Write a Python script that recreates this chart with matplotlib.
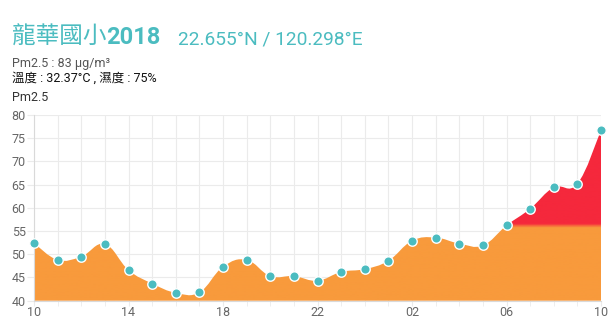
import matplotlib
matplotlib.use('Agg')
import matplotlib.pyplot as plt
import numpy as np
from matplotlib.path import Path
from matplotlib.patches import PathPatch
from matplotlib.colors import LinearSegmentedColormap

plt.rcParams['font.family'] = ['Roboto', 'Noto Sans CJK TC', 'DejaVu Sans']

hours = ['10', '11', '12', '13', '14', '15', '16', '17', '18', '19', '20', '21', '22',
         '23', '00', '01', '02', '03', '04', '05', '06', '07', '08', '09', '10']
pm25 = [52.4, 48.8, 49.5, 52.2, 46.6, 43.7, 41.7, 41.8, 47.3, 48.8, 45.3, 45.3, 44.3,
        46.2, 46.8, 48.6, 52.9, 53.6, 52.3, 51.9, 56.2, 59.8, 64.4, 65.2, 76.7]
tick_labels = ['10', '14', '18', '22', '02', '06', '10']

teal = '#4bbcc0'
orange = '#f89a3c'
red = '#f5283c'

fig = plt.figure(figsize=(6.1, 3.19), dpi=100)
ax = fig.add_axes([34/610, 1-300.7/319, 567/610, 185.7/319])

x = np.arange(len(pm25), dtype=float)
y = np.array(pm25)
ymin = 40

# bezier curve like chart.js tension
verts = [(x[0], y[0])]
codes = [Path.MOVETO]
t = 0.2
n = len(x)
for i in range(n - 1):
    p0 = (x[max(i-1, 0)], y[max(i-1, 0)])
    p1 = (x[i], y[i])
    p2 = (x[i+1], y[i+1])
    p3 = (x[min(i+2, n-1)], y[min(i+2, n-1)])
    c1 = (p1[0] + t*(p2[0]-p0[0]), p1[1] + t*(p2[1]-p0[1]))
    c2 = (p2[0] - t*(p3[0]-p1[0]), p2[1] - t*(p3[1]-p1[1]))
    verts += [c1, c2, p2]
    codes += [Path.CURVE4]*3
area_verts = verts + [(x[-1], ymin), (x[0], ymin), (x[0], y[0])]
area_codes = codes + [Path.LINETO, Path.LINETO, Path.CLOSEPOLY]
patch = PathPatch(Path(area_verts, area_codes), facecolor='none', edgecolor='none')
ax.add_patch(patch)

cmap = LinearSegmentedColormap.from_list('pm', [(0, orange), (0.395, orange), (0.415, red), (1, red)])
grad = np.linspace(0, 1, 400).reshape(-1, 1)
im = ax.imshow(grad, cmap=cmap, aspect='auto', origin='lower',
               extent=[x[0], x[-1], ymin, 80], zorder=1)
im.set_clip_path(patch)

ax.plot(x, y, 'o', color=teal, markersize=6.8, markeredgecolor='white',
        markeredgewidth=1, zorder=3, clip_on=False)

ax.set_xlim(0, 24)
ax.set_ylim(40, 80)
ax.set_yticks(np.arange(40, 81, 5))
ax.set_xticks(np.arange(0, 25, 1), minor=True)
ax.set_xticks(np.arange(0, 25, 4))
ax.set_xticklabels(tick_labels)
ax.grid(True, which='both', color='#ebebeb', linewidth=0.8, zorder=0)
ax.set_axisbelow(True)
for s in ['top', 'right']:
    ax.spines[s].set_visible(False)
for s in ['left', 'bottom']:
    ax.spines[s].set_color('#d9d9d9')
    ax.spines[s].set_linewidth(0.8)
ax.tick_params(which='both', length=5, color='#ebebeb', labelsize=9, labelcolor='#666666')
ax.tick_params(axis='y', pad=1)
ax.tick_params(axis='x', which='both', length=3.5, pad=0.5)

r = fig.canvas.get_renderer()
t1 = fig.text(12/610, 1-44/319, '龍華國小', fontsize=17, color=teal, va='baseline',
              family=['Noto Sans CJK TC'])
bb = t1.get_window_extent(renderer=r)
fig.text(bb.x1/610, 1-44/319, '2018', fontsize=17, color=teal, va='baseline', fontweight='bold')
fig.text(178/610, 1-44/319, '22.655°N / 120.298°E', fontsize=13.8, color=teal, va='baseline')
fig.text(12/610, 1-67/319, 'Pm2.5 : 83 μg/m³', fontsize=9, color='#555555', va='baseline')
fig.text(12/610, 1-82/319, '溫度 : 32.37°C , 濕度 : 75%', fontsize=9, color='#111111', va='baseline')
fig.text(12/610, 1-101/319, 'Pm2.5', fontsize=9, color='#333333', va='baseline')

fig.savefig('out.png', dpi=100)
